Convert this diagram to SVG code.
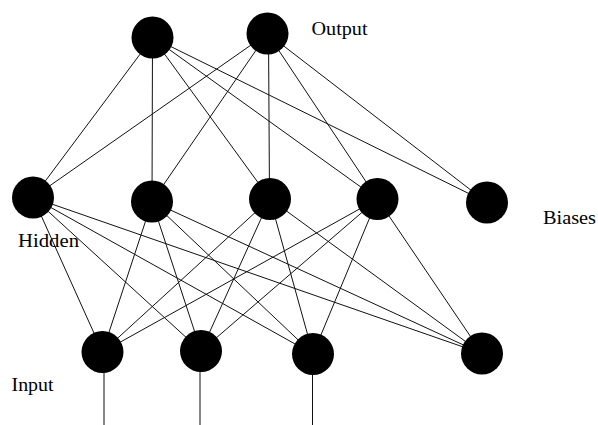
<svg xmlns="http://www.w3.org/2000/svg" width="598" height="425" viewBox="0 0 598 425">
<style>
.n{fill:#000}
.c line{stroke:#111;stroke-width:1}
.t{font-family:"Liberation Serif","Times New Roman",serif;font-size:18px;fill:#000}
</style>
<rect width="598" height="425" fill="#fff"/>
<g id="connectors" class="c">
<line x1="152.5" y1="37.5" x2="33" y2="197.5"/>
<line x1="152.5" y1="37.5" x2="152" y2="201.5"/>
<line x1="152.5" y1="37.5" x2="270" y2="199"/>
<line x1="152.5" y1="37.5" x2="377.5" y2="199"/>
<line x1="152.5" y1="37.5" x2="487" y2="202.5"/>
<line x1="267.5" y1="33.5" x2="33" y2="197.5"/>
<line x1="267.5" y1="33.5" x2="152" y2="201.5"/>
<line x1="268.5" y1="33.5" x2="269.5" y2="199"/>
<line x1="267.5" y1="33.5" x2="377.5" y2="199"/>
<line x1="267.5" y1="33.5" x2="487" y2="202.5"/>
<line x1="33" y1="197.5" x2="102.5" y2="352"/>
<line x1="33" y1="197.5" x2="201" y2="351"/>
<line x1="33" y1="197.5" x2="313" y2="354"/>
<line x1="33" y1="197.5" x2="482" y2="353.5"/>
<line x1="152" y1="201.5" x2="102.5" y2="352"/>
<line x1="152" y1="201.5" x2="201" y2="351"/>
<line x1="152" y1="201.5" x2="313" y2="354"/>
<line x1="152" y1="201.5" x2="482" y2="353.5"/>
<line x1="270" y1="199" x2="102.5" y2="352"/>
<line x1="270" y1="199" x2="201" y2="351"/>
<line x1="270" y1="199" x2="313" y2="354"/>
<line x1="270" y1="199" x2="482" y2="353.5"/>
<line x1="377.5" y1="199" x2="102.5" y2="352"/>
<line x1="377.5" y1="199" x2="201" y2="351"/>
<line x1="377.5" y1="199" x2="313" y2="354"/>
<line x1="377.5" y1="199" x2="482" y2="353.5"/>
<line x1="104" y1="352" x2="104" y2="425"/>
<line x1="200" y1="351" x2="200" y2="425"/>
<line x1="312.5" y1="354" x2="312.5" y2="425"/>
</g>
<g id="output1"><circle class="n" cx="152.5" cy="37.5" r="21"/></g>
<g id="output2"><circle class="n" cx="267.5" cy="33.5" r="21"/></g>
<g id="hidden1"><circle class="n" cx="33" cy="197.5" r="21"/></g>
<g id="hidden2"><circle class="n" cx="152" cy="201.5" r="21"/></g>
<g id="hidden3"><circle class="n" cx="270" cy="199" r="21"/></g>
<g id="hidden4"><circle class="n" cx="377.5" cy="199" r="21"/></g>
<g id="hiddenBias"><circle class="n" cx="487" cy="202.5" r="21"/></g>
<g id="input1"><circle class="n" cx="102.5" cy="352" r="21"/></g>
<g id="input2"><circle class="n" cx="201" cy="351" r="21"/></g>
<g id="input3"><circle class="n" cx="313" cy="354" r="21"/></g>
<g id="inputBias"><circle class="n" cx="482" cy="353.5" r="21"/></g>
<g id="labels">
<text class="t" x="311.5" y="35" textLength="56" lengthAdjust="spacingAndGlyphs">Output</text>
<text class="t" x="18" y="247" textLength="61" lengthAdjust="spacingAndGlyphs">Hidden</text>
<text class="t" x="543" y="224" textLength="53" lengthAdjust="spacingAndGlyphs">Biases</text>
<text class="t" x="11.5" y="391" textLength="42" lengthAdjust="spacingAndGlyphs">Input</text>
</g>
</svg>
